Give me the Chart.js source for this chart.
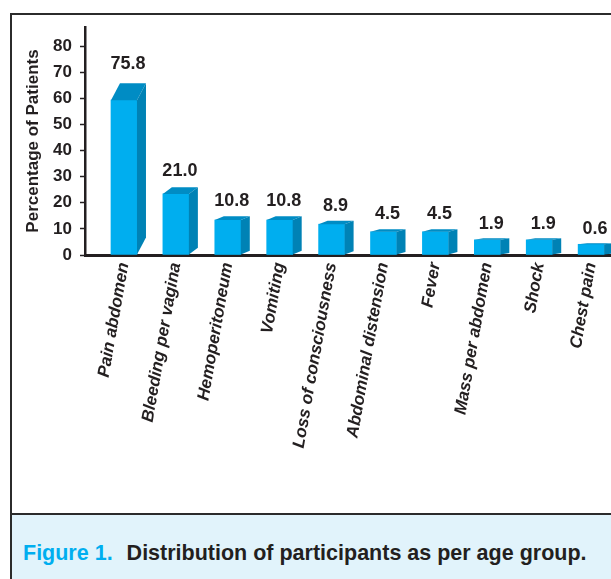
<!DOCTYPE html>
<html>
<head>
<meta charset="utf-8">
<script src="https://cdn.jsdelivr.net/npm/chart.js@4/dist/chart.umd.min.js"></script>
<style>
  html, body { margin: 0; padding: 0; background: #ffffff; }
  body { width: 611px; height: 579px; position: relative; overflow: hidden; font-family: "Liberation Sans", Arial, sans-serif; }
  #frame { position: absolute; left: 10px; top: 13px; width: 620px; height: 600px; border-left: 2px solid #2b2b2b; border-top: 2px solid #2b2b2b; }
  #capbox { position: absolute; left: 12px; top: 513px; width: 620px; height: 80px; background: #e1f3fb; border-top: 2px solid #2b2b2b; }
  #caption { position: absolute; left: 23px; top: 541px; line-height: 24px; font-size: 21.5px; font-weight: bold; color: #231f20; white-space: nowrap; }
  #caption .fig { color: #00aeef; margin-right: 14px; }
  #wrap { position: absolute; left: 0; top: 0; width: 611px; height: 514px; }
</style>
</head>
<body>
<div id="frame"></div>
<div id="capbox"></div>
<div id="caption"><span class="fig">Figure 1.</span>Distribution of participants as per age group.</div>
<div id="wrap"><canvas id="c" width="611" height="514"></canvas></div>
<script>
// ---- data ----
const categories = ["Pain abdomen", "Bleeding per vagina", "Hemoperitoneum", "Vomiting",
  "Loss of consciousness", "Abdominal distension", "Fever", "Mass per abdomen", "Shock", "Chest pain"];
// labelled values printed above the bars
const valueLabels = ["75.8", "21.0", "10.8", "10.8", "8.9", "4.5", "4.5", "1.9", "1.9", "0.6"];
// bar heights as drawn against the y axis of the picture
const barHeights = [59.3, 23.4, 13.4, 13.4, 11.8, 8.9, 8.9, 5.8, 5.8, 4.1];
const yTicks = [0, 10, 20, 30, 40, 50, 60, 70, 80];
const yTitle = "Percentage of Patients";

const INK = "#231f20";
const FRONT = "#00aeef";
const TOP = "#008cc4";
const SIDE = "#0082b5";

const bar3d = {
  id: "bar3d",
  afterDatasetsDraw(chart) {
    const ctx = chart.ctx;
    const meta = chart.getDatasetMeta(0);
    ctx.save();
    meta.data.forEach((el, i) => {
      const p = el.getProps(["x", "y", "base", "width"], true);
      const xl = p.x - p.width / 2, xr = p.x + p.width / 2;
      const h = p.base - p.y;
      const dx = 9, dy = 0.11 * h;
      // top face
      ctx.fillStyle = TOP;
      ctx.beginPath();
      ctx.moveTo(xl, p.y); ctx.lineTo(xl + dx, p.y - dy); ctx.lineTo(xr + dx, p.y - dy); ctx.lineTo(xr, p.y);
      ctx.closePath(); ctx.fill();
      // side face
      ctx.fillStyle = SIDE;
      ctx.beginPath();
      ctx.moveTo(xr, p.y); ctx.lineTo(xr + dx, p.y - dy); ctx.lineTo(xr + dx, p.base - dy); ctx.lineTo(xr, p.base);
      ctx.closePath(); ctx.fill();
      // value label
      ctx.fillStyle = INK;
      ctx.font = "bold 18px 'Liberation Sans', Arial, sans-serif";
      ctx.textAlign = "center";
      ctx.textBaseline = "middle";
      ctx.fillText(valueLabels[i], p.x + 4, p.y - dy - (14 + 0.035 * h));
    });
    ctx.restore();
  }
};

const LEFTPAD = 23;
new Chart(document.getElementById("c"), {
  type: "bar",
  data: {
    datasets: [{
      data: categories.map((c, i) => ({ x: i, y: barHeights[i] })),
      backgroundColor: FRONT,
      borderWidth: 0,
      barThickness: 26
    }]
  },
  options: {
    responsive: false,
    devicePixelRatio: 1,
    animation: false,
    layout: { padding: { left: LEFTPAD, top: 27, right: 0, bottom: 0 } },
    plugins: { legend: { display: false }, tooltip: { enabled: false } },
    scales: {
      x: {
        type: "linear",
        position: "bottom",
        offset: false,
        min: -0.751,
        max: 9.383,
        z: 1,
        grid: { display: false, drawTicks: false, offset: false },
        border: { display: true, color: INK, width: 3 },
        ticks: {
          stepSize: 1,
          includeBounds: false,
          autoSkip: false,
          minRotation: 80,
          maxRotation: 80,
          padding: 6,
          color: INK,
          font: { family: "'Liberation Sans', Arial, sans-serif", size: 17, style: "italic", weight: "bold" },
          callback: (v) => Number.isInteger(v) && v >= 0 && v < categories.length ? categories[v] : ""
        },
        afterFit: (s) => { s.height = 514 - 255; s.paddingLeft = 0; s.paddingRight = 0; }
      },
      y: {
        position: "left",
        min: 0,
        max: 87.3,
        afterBuildTicks: (s) => { s.ticks = yTicks.map(v => ({ value: v })); },
        grid: { drawOnChartArea: false, drawTicks: true, tickLength: 5, tickColor: INK, tickWidth: 1.5 },
        border: { display: true, color: INK, width: 2.5 },
        ticks: {
          padding: 8,
          color: INK,
          font: { family: "'Liberation Sans', Arial, sans-serif", size: 17, weight: "bold" }
        },
        title: {
          display: true,
          text: yTitle,
          color: INK,
          padding: 0,
          font: { family: "'Liberation Sans', Arial, sans-serif", size: 17, weight: "bold" }
        },
        afterFit: (s) => { s.width = 85 - LEFTPAD; }
      }
    }
  },
  plugins: [bar3d]
});
</script>
</body>
</html>
